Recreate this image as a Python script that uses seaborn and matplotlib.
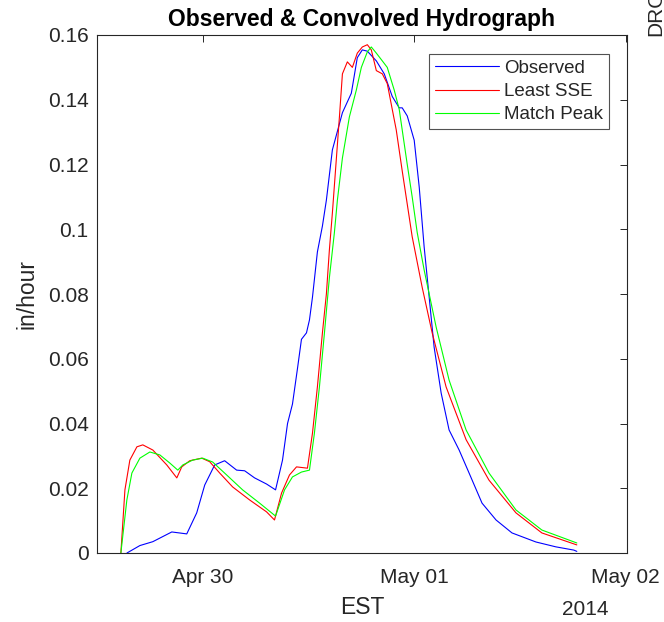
import numpy as np
import pandas as pd
import matplotlib
matplotlib.use("Agg")
import matplotlib.pyplot as plt
import matplotlib.dates as mdates
import seaborn as sns

# ---- data (hours relative to 2014-04-30 00:00 EST) ----
obs_hours = [-8.6, -7.13, -5.66, -3.51, -1.81, -0.68, 0.23, 1.36, 2.49, 3.85, 4.76, 5.89,
             7.25, 8.27, 9.06, 9.63, 10.19, 10.76, 11.21, 11.78, 12.12, 12.46, 13.02,
             13.59, 14.04, 14.72, 15.86, 16.87, 17.55, 18.12, 18.69, 19.71, 20.61,
             21.52, 22.31, 22.65, 23.22, 24.01, 24.58, 25.14, 25.71, 26.27, 27.07,
             27.97, 29.11, 30.24, 31.71, 33.30, 35.11, 37.83, 40.09, 42.13, 42.47]
obs_vals = [0.0, 0.0023, 0.0035, 0.0065, 0.0059, 0.0124, 0.021, 0.0272, 0.0285, 0.0256,
            0.0254, 0.0232, 0.0213, 0.0195, 0.0287, 0.040, 0.046, 0.057, 0.066, 0.068,
            0.072, 0.079, 0.093, 0.101, 0.109, 0.1245, 0.136, 0.142, 0.153, 0.1554,
            0.155, 0.152, 0.148, 0.141, 0.1375, 0.1375, 0.135, 0.1275, 0.113, 0.0945,
            0.079, 0.0636, 0.0494, 0.038, 0.0318, 0.0247, 0.0154, 0.0102, 0.0062,
            0.0034, 0.0019, 0.0009, 0.0005]

sse_hours = [-9.29, -8.83, -8.27, -7.47, -6.80, -5.66, -4.08, -2.94, -2.38, -1.47, -0.11,
             0.79, 1.93, 3.40, 5.32, 7.25, 8.15, 8.95, 9.85, 10.65, 11.89, 12.46, 13.02,
             13.59, 14.04, 14.38, 14.72, 15.52, 15.86, 16.42, 16.99, 17.55, 18.12, 18.69,
             19.14, 19.71, 20.39, 20.95, 21.97, 22.65, 23.78, 24.92, 26.05, 27.63, 29.90,
             32.50, 35.56, 38.50, 42.47]
sse_vals = [0.0, 0.0195, 0.0287, 0.0328, 0.0334, 0.0318, 0.0272, 0.0232, 0.0266, 0.0285,
            0.0293, 0.0282, 0.0247, 0.0204, 0.0164, 0.0127, 0.0102, 0.0185, 0.0241,
            0.0266, 0.0262, 0.037, 0.0513, 0.068, 0.080, 0.0936, 0.105, 0.1347, 0.148,
            0.1517, 0.150, 0.1544, 0.1563, 0.157, 0.1554, 0.149, 0.148, 0.145, 0.1307,
            0.118, 0.0977, 0.082, 0.068, 0.0513, 0.035, 0.0225, 0.0124, 0.0062, 0.0025]

peak_hours = [-9.29, -8.61, -8.04, -7.13, -6.00, -4.87, -3.74, -2.83, -2.26, -1.13, 0.0,
              1.13, 2.72, 4.53, 6.46, 8.27, 9.29, 10.19, 11.21, 12.12, 12.68, 13.25,
              13.82, 14.38, 14.95, 15.29, 15.86, 16.65, 17.44, 18.01, 18.69, 19.14,
              19.71, 20.39, 20.95, 21.74, 22.31, 23.22, 23.78, 24.35, 25.14, 26.50,
              27.97, 29.90, 32.50, 35.56, 38.50, 42.47]
peak_vals = [0.0, 0.0164, 0.0247, 0.0293, 0.0312, 0.0303, 0.0278, 0.0256, 0.0272, 0.0287,
             0.0293, 0.0281, 0.0241, 0.0195, 0.0154, 0.0114, 0.0195, 0.0235, 0.025,
             0.0256, 0.037, 0.0513, 0.068, 0.085, 0.099, 0.109, 0.122, 0.1347, 0.143,
             0.150, 0.1548, 0.1563, 0.1544, 0.152, 0.150, 0.143, 0.137, 0.120, 0.110,
             0.099, 0.0874, 0.0698, 0.0534, 0.038, 0.0247, 0.0133, 0.0071, 0.0031]

series_names = ["Observed", "Least SSE", "Match Peak"]
series_colors = ["#0000ff", "#ff0000", "#00ff00"]
x_tick_labels = ["2014-04-30", "2014-05-01", "2014-05-02"]
y_ticks = [0, 0.02, 0.04, 0.06, 0.08, 0.1, 0.12, 0.14, 0.16]

base = pd.Timestamp("2014-04-30 00:00")
frames = []
for name, hrs, vals in zip(series_names,
                           [obs_hours, sse_hours, peak_hours],
                           [obs_vals, sse_vals, peak_vals]):
    frames.append(pd.DataFrame({"time": base + pd.to_timedelta(hrs, unit="h"),
                                "value": vals, "series": name}))
df = pd.concat(frames, ignore_index=True)

# ---- style ----
sns.set_style("white")
plt.rcParams["font.family"] = ["Liberation Sans", "DejaVu Sans"]
dark = "#262626"

fig = plt.figure(figsize=(6.64, 6.22), dpi=100)
ax = fig.add_axes([97 / 664, 1 - 553 / 622, 530 / 664, 518 / 622])

sns.lineplot(data=df, x="time", y="value", hue="series", hue_order=series_names,
             palette=dict(zip(series_names, series_colors)), estimator=None,
             sort=False, linewidth=0.8, ax=ax, legend=True)

ax.set_xlim(pd.Timestamp("2014-04-29 12:00"), pd.Timestamp("2014-05-02 00:10"))
ax.set_ylim(0, 0.16)
ax.set_xticks([pd.Timestamp(t) for t in x_tick_labels])
ax.xaxis.set_major_formatter(mdates.DateFormatter("%b %d"))
ax.set_yticks(y_ticks)
ax.set_yticklabels(["0" if v == 0 else f"{v:g}" for v in y_ticks])

for s in ax.spines.values():
    s.set_color(dark)
    s.set_linewidth(0.8)
ax.tick_params(axis="both", which="both", direction="in", length=5, width=0.7,
               colors=dark, labelsize=15, top=True, right=True)
ax.tick_params(axis="x", pad=11)
ax.tick_params(axis="y", pad=6)

ax.set_title("Observed & Convolved Hydrograph", fontsize=16.5, fontweight="bold",
             color="black", pad=6.5)
ax.set_xlabel("EST", fontsize=16.5, color=dark, labelpad=6.5)
ax.set_ylabel("in/hour", fontsize=16.5, color=dark, labelpad=7)
fig.text(585 / 664, 1 - 615 / 622, "2014", fontsize=15, color=dark,
         ha="center", va="baseline")
fig.text(656 / 664, 1 - 36 / 622, "DRO", fontsize=15, color=dark, rotation=90,
         ha="center", va="bottom")

leg = ax.legend(loc="upper right", bbox_to_anchor=((609 - 97) / 530, (553 - 54) / 518),
                borderaxespad=0, fontsize=13.5, frameon=True, fancybox=False,
                handlelength=3.4, handletextpad=0.3, labelspacing=0.33,
                borderpad=0.3, title=None)
leg.get_frame().set_edgecolor(dark)
leg.get_frame().set_linewidth(0.8)
for line in leg.get_lines():
    line.set_linewidth(0.8)

fig.savefig("out.png", dpi=100)
